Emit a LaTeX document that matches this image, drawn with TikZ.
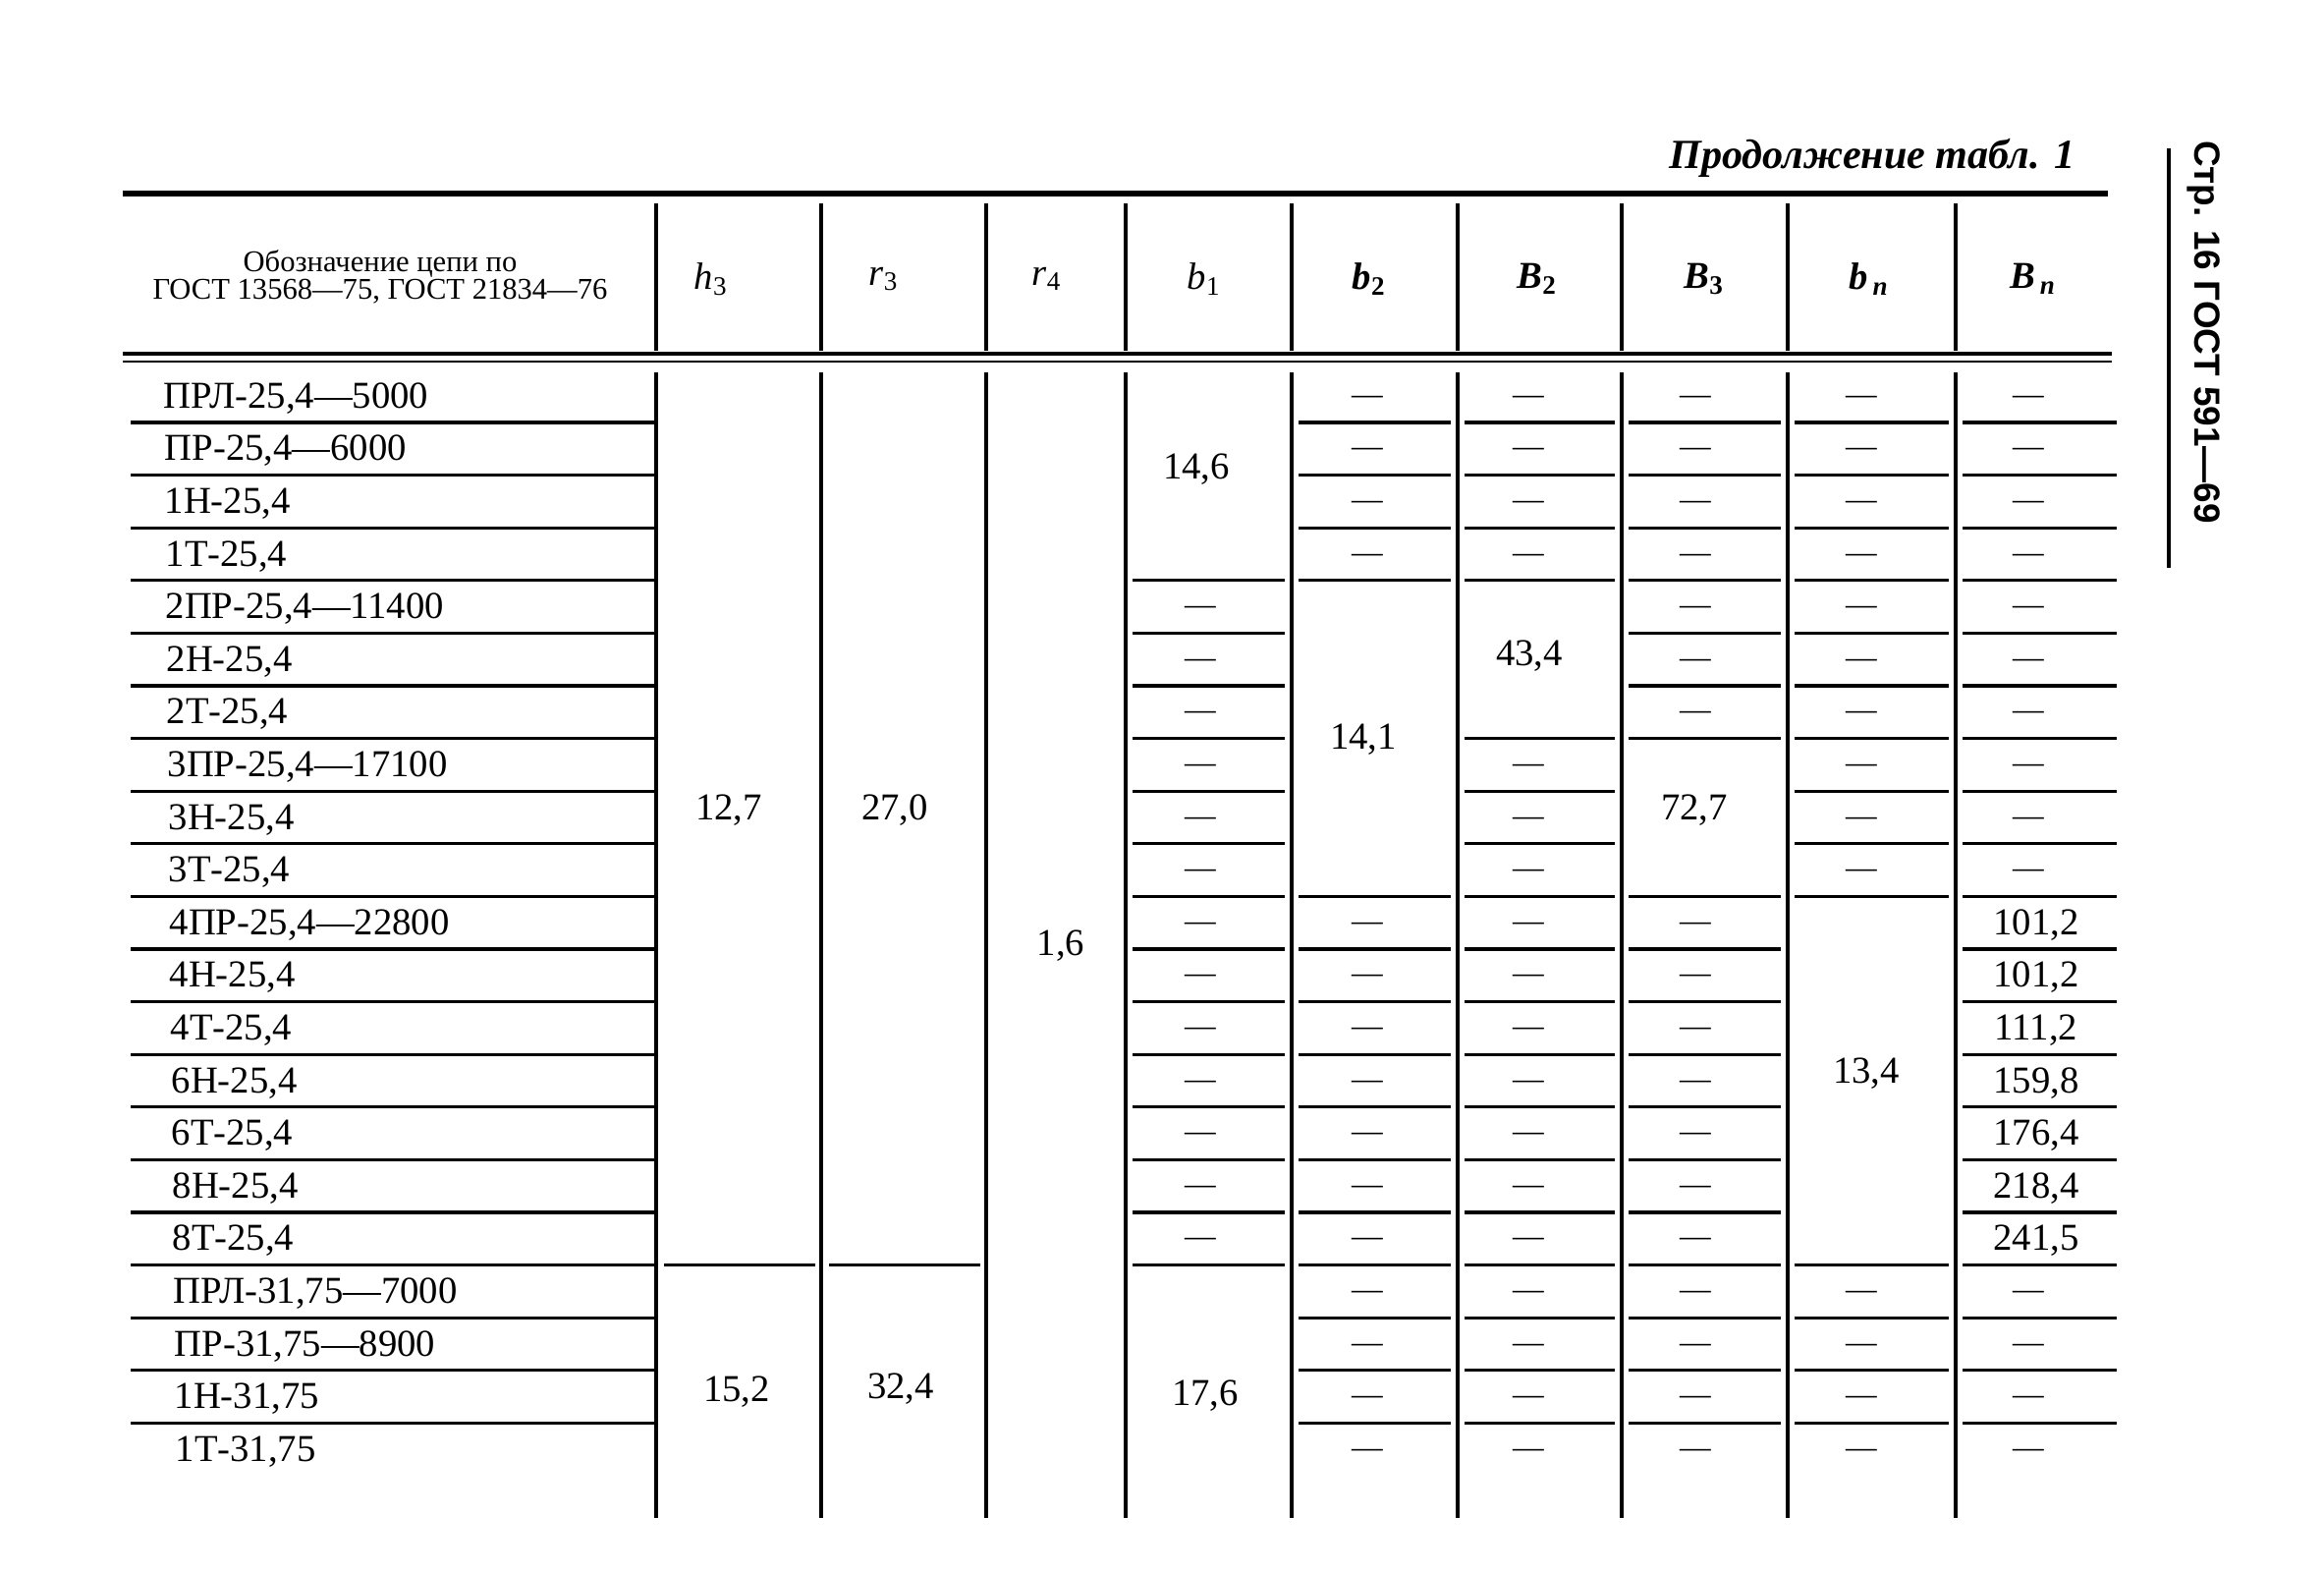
\documentclass[tikz,border=0pt]{standalone}
\usepackage{fontspec}
\setmainfont{Liberation Serif}
\newfontfamily\sidefont{Liberation Sans}
\begin{document}
\begin{tikzpicture}[x=0.01cm,y=-0.01cm,
  rl/.style={line width=0.95pt},
  vl/.style={line width=0.95pt},
  nm/.style={anchor=base west,font=\fontsize{11}{13}\selectfont,inner sep=0pt},
  val/.style={anchor=base,font=\fontsize{11}{13}\selectfont,inner sep=0pt},
  dsh/.style={anchor=base,font=\fontsize{9}{11}\selectfont,inner sep=0pt},
  hd/.style={font=\fontsize{11}{13}\selectfont\itshape,inner sep=0pt},
  hdb/.style={font=\fontsize{11}{13}\selectfont\bfseries\itshape,inner sep=0pt}]
\fill[white] (0,0) rectangle (2366,1600);
\useasboundingbox (0,0) rectangle (2366,1600);

% title and side mark
\node[anchor=base east,font=\fontsize{12}{14}\selectfont\bfseries\itshape,inner sep=0pt] (title) at (2113,172) {Продолжение табл. 1};
\draw[line width=1.1pt] (2208,151) -- (2208,578);
\node[rotate=-90,font=\sidefont\bfseries\fontsize{10.5}{12}\selectfont,inner sep=0pt] (side) at (2244,338) {Стр. 16 ГОСТ 591—69};

% rules
\draw[line width=1.6pt] (125,197) -- (2146,197);
\draw[line width=1.3pt] (125,360) -- (2150,360);
\draw[line width=0.8pt] (125,368) -- (2150,368);

% vertical lines
\foreach \x in {668,836,1004,1146,1315,1484,1651,1820,1991} {
  \draw[vl] (\x,207) -- (\x,357);
  \draw[vl] (\x,379) -- (\x,1545);
}

% header texts
\node[font=\fontsize{8.7}{7.8}\selectfont,align=center,inner sep=0pt] (hname) at (387,282) {Обозначение цепи по\\ГОСТ 13568—75, ГОСТ 21834—76};
\node[hd] (hh3) at (724,284) {h\textsubscript{\upshape 3}};
\node[hd] (hr3) at (900,284) {r\textsubscript{\upshape 3}};
\node[hd] (hr4) at (1066,284) {r\textsubscript{\upshape 4}};
\node[hd] (hb1) at (1226,284) {b\textsubscript{\upshape 1}};
\node[hdb] (hb2) at (1394,284) {b\textsubscript{\upshape 2}};
\node[hdb] (hB2) at (1565,284) {B\textsubscript{\upshape 2}};
\node[hdb] (hB3) at (1735,284) {B\textsubscript{\upshape 3}};
\node[hdb] (hbn) at (1903,284) {b\textsubscript{\,n}};
\node[hdb] (hBn) at (2070,284) {B\textsubscript{\,n}};

% name column
\node[nm] (n1) at (166,415.2) {ПРЛ-25,4—5000};
\node[nm] (n2) at (167,468.8) {ПР-25,4—6000};
\node[nm] (n3) at (167,522.4) {1Н-25,4};
\node[nm] (n4) at (168,576.0) {1Т-25,4};
\node[nm] (n5) at (168,629.6) {2ПР-25,4—11400};
\node[nm] (n6) at (169,683.2) {2Н-25,4};
\node[nm] (n7) at (169,736.8) {2Т-25,4};
\node[nm] (n8) at (170,790.4) {3ПР-25,4—17100};
\node[nm] (n9) at (171,844.0) {3Н-25,4};
\node[nm] (n10) at (171,897.6) {3Т-25,4};
\node[nm] (n11) at (172,951.2) {4ПР-25,4—22800};
\node[nm] (n12) at (172,1004.8) {4Н-25,4};
\node[nm] (n13) at (173,1058.4) {4Т-25,4};
\node[nm] (n14) at (174,1112.0) {6Н-25,4};
\node[nm] (n15) at (174,1165.6) {6Т-25,4};
\node[nm] (n16) at (175,1219.2) {8Н-25,4};
\node[nm] (n17) at (175,1272.8) {8Т-25,4};
\node[nm] (n18) at (176,1326.4) {ПРЛ-31,75—7000};
\node[nm] (n19) at (177,1380.0) {ПР-31,75—8900};
\node[nm] (n20) at (177,1433.6) {1Н-31,75};
\node[nm] (n21) at (178,1487.2) {1Т-31,75};

% row lines
\foreach \k in {1,...,20} {\pgfmathsetmacro\yy{430+53.6*(\k-1)} \draw[rl] (133,\yy) -- (668,\yy);}
\foreach \k in {17} {\pgfmathsetmacro\yy{430+53.6*(\k-1)} \draw[rl] (676,\yy) -- (830,\yy); \draw[rl] (844,\yy) -- (998,\yy);}
\foreach \k in {4,...,17} {\pgfmathsetmacro\yy{430+53.6*(\k-1)} \draw[rl] (1153,\yy) -- (1308,\yy);}
\foreach \k in {1,2,3,4,10,11,12,13,14,15,16,17,18,19,20} {\pgfmathsetmacro\yy{430+53.6*(\k-1)} \draw[rl] (1322,\yy) -- (1477,\yy);}
\foreach \k in {1,2,3,4,7,8,9,10,11,12,13,14,15,16,17,18,19,20} {\pgfmathsetmacro\yy{430+53.6*(\k-1)} \draw[rl] (1491,\yy) -- (1644,\yy);}
\foreach \k in {1,2,3,4,5,6,7,10,11,12,13,14,15,16,17,18,19,20} {\pgfmathsetmacro\yy{430+53.6*(\k-1)} \draw[rl] (1658,\yy) -- (1813,\yy);}
\foreach \k in {1,2,3,4,5,6,7,8,9,10,17,18,19,20} {\pgfmathsetmacro\yy{430+53.6*(\k-1)} \draw[rl] (1827,\yy) -- (1984,\yy);}
\foreach \k in {1,...,20} {\pgfmathsetmacro\yy{430+53.6*(\k-1)} \draw[rl] (1998,\yy) -- (2155,\yy);}

% dashes
\foreach \k in {5,...,17} {\pgfmathsetmacro\yy{411.2+53.6*(\k-1)} \node[dsh] (d1-\k) at (1222,\yy) {—};}
\foreach \k in {1,2,3,4,11,12,13,14,15,16,17,18,19,20,21} {\pgfmathsetmacro\yy{411.2+53.6*(\k-1)} \node[dsh] (d2-\k) at (1392,\yy) {—};}
\foreach \k in {1,2,3,4,8,9,10,11,12,13,14,15,16,17,18,19,20,21} {\pgfmathsetmacro\yy{411.2+53.6*(\k-1)} \node[dsh] (d3-\k) at (1556,\yy) {—};}
\foreach \k in {1,2,3,4,5,6,7,11,12,13,14,15,16,17,18,19,20,21} {\pgfmathsetmacro\yy{411.2+53.6*(\k-1)} \node[dsh] (d4-\k) at (1726,\yy) {—};}
\foreach \k in {1,...,10,18,19,20,21} {\pgfmathsetmacro\yy{411.2+53.6*(\k-1)} \node[dsh] (d5-\k) at (1895,\yy) {—};}
\foreach \k in {1,...,10,18,19,20,21} {\pgfmathsetmacro\yy{411.2+53.6*(\k-1)} \node[dsh] (d6-\k) at (2065,\yy) {—};}

% merged values
\node[val] (v127) at (742,834) {12,7};
\node[val] (v270) at (911,834) {27,0};
\node[val] (v16) at (1080,972) {1,6};
\node[val] (v146) at (1218,487) {14,6};
\node[val] (v141) at (1388,762) {14,1};
\node[val] (v434) at (1557,677) {43,4};
\node[val] (v727) at (1725,834) {72,7};
\node[val] (v134) at (1900,1102) {13,4};
\node[val] (v152) at (750,1426) {15,2};
\node[val] (v324) at (917,1423) {32,4};
\node[val] (v176) at (1227,1430) {17,6};

% Bn values
\node[val] (b11) at (2073,951.2) {101,2};
\node[val] (b12) at (2073,1004.8) {101,2};
\node[val] (b13) at (2073,1058.4) {111,2};
\node[val] (b14) at (2073,1112.0) {159,8};
\node[val] (b15) at (2073,1165.6) {176,4};
\node[val] (b16) at (2073,1219.2) {218,4};
\node[val] (b17) at (2073,1272.8) {241,5};
\end{tikzpicture}
\end{document}
